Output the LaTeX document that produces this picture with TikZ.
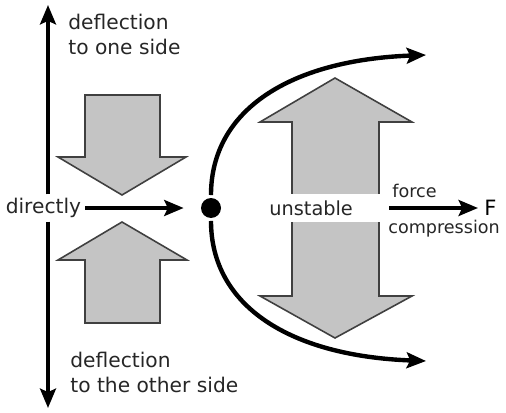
\documentclass[tikz,border=0pt]{standalone}
\usepackage{fontspec}
\setmainfont{DejaVu Sans}
\usepackage{xcolor}
\usepackage{tikz}
\usetikzlibrary{arrows.meta, positioning, calc}

\begin{document}
\begin{tikzpicture}[
        x=0.02cm, y=-0.02cm,
        lbl/.style={font=\fontsize{11.5}{14}\selectfont, text=black!85, inner sep=0pt, align=left},
        small/.style={font=\fontsize{10}{12}\selectfont, text=black!85, inner sep=0pt},
        bigarrow/.style={draw=black!75, fill=black!23, line width=0.9pt, line join=miter},
        heavy/.style={line width=2.5pt, -{Stealth[length=11pt, width=9pt, inset=2pt]}},
        dotnode/.style={circle, fill=black, minimum size=0.4cm, inner sep=0pt}
    ]
        \useasboundingbox (0,0) rectangle (506,412);

        % Pressure arrows (left)
        \draw[bigarrow] (85,95) -- (160,95) -- (160,157) -- (186,157) -- (122,195) -- (58,157) -- (85,157) -- cycle;
        \draw[bigarrow] (122,222) -- (187,260) -- (160,260) -- (160,323) -- (85,323) -- (85,260) -- (58,260) -- cycle;

        % Deflection arrow (right)
        \draw[bigarrow] (335,78) -- (412,122) -- (379,122) -- (379,296) -- (412,296) -- (335,338) -- (260,296) -- (292,296) -- (292,122) -- (260,122) -- cycle;

        % Labels
        \node[lbl, anchor=north west] (one) at (68,14) {deflection\\to one side};
        \node[lbl, anchor=north west] (other) at (70,352) {deflection\\to the other side};
        \node[lbl, anchor=east, inner sep=2pt] (directly) at (85,208) {directly};
        \node[lbl, anchor=west, fill=white, font=\fontsize{11}{13}\selectfont, inner xsep=0.22cm, text width=2.08cm, minimum height=0.56cm] (unstable) at (258,208) {unstable};
        \node[small, anchor=base west] (force) at (392,197) {force};
        \node[small, anchor=base west] (compr) at (388,233) {compression};
        \node[lbl, anchor=west, font=\fontsize{12}{14}\selectfont, text=black] (F) at (484,208) {F};

        % Ball
        \node[dotnode] (dot) at (211,208) {};

        % Ends
        \coordinate (top) at (48,5);
        \coordinate (bottom) at (48,408);
        \coordinate (upend) at (426,55);
        \coordinate (downend) at (426,361);
        \coordinate (fstart) at (389,208);

        % Arrows
        \draw[heavy] (top |- directly.north) -- (top);
        \draw[heavy] (bottom |- directly.south) -- (bottom);
        \draw[heavy, shorten >=0.34cm] (directly.east) -- (dot.west);
        \draw[heavy, shorten <=1.5pt] (dot.north) .. controls (211,110) and (290,60) .. (upend);
        \draw[heavy, shorten <=1.5pt] (dot.south) .. controls (211,306) and (290,356) .. (downend);
        \draw[heavy, shorten >=0.12cm] (fstart) -- (F.west |- fstart);

    \end{tikzpicture}
\end{document}
